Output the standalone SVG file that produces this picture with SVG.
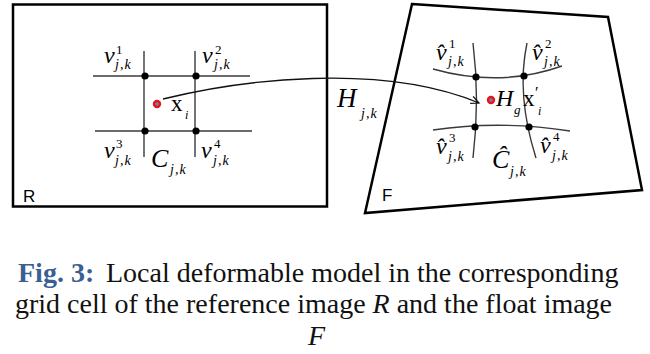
<svg xmlns="http://www.w3.org/2000/svg" width="650" height="354" viewBox="0 0 650 354">
<style>
.frame{fill:none;stroke:#000;stroke-width:2.5}
.grid{fill:none;stroke:#3a3a3a;stroke-width:1.4}
.dot{fill:#000}
.m{font-family:"Liberation Serif","Times New Roman",serif;fill:#000}
.v{font-size:24px;font-style:italic}
.sup{font-size:13px}
.sub{font-size:14px;font-style:italic;letter-spacing:1px}
.lbl{font-family:"Liberation Sans",Arial,sans-serif;font-size:17px;fill:#000}
.cap{font-family:"Liberation Serif","Times New Roman",serif;font-size:28px;fill:#111}
.conn{fill:none;stroke:#111;stroke-width:1.3}
</style>
<defs>
<marker id="arr" markerUnits="userSpaceOnUse" markerWidth="12" markerHeight="12" refX="0" refY="0" viewBox="-10 -6 12 12" orient="auto">
<path d="M-8,-3.8 L0,0 L-8,3.8" fill="none" stroke="#111" stroke-width="1.2"/>
</marker>
</defs>
<rect width="650" height="354" fill="#fff"/>

<g id="image-R">
<rect class="frame" x="13" y="4.5" width="314" height="202"/>
<text class="lbl" x="23" y="202">R</text>
</g>

<g id="cell-C">
<line class="grid" x1="144" y1="51" x2="144" y2="157"/>
<line class="grid" x1="195" y1="51" x2="195" y2="157"/>
<line class="grid" x1="93" y1="76" x2="250" y2="76"/>
<line class="grid" x1="95" y1="131" x2="252" y2="131"/>
<circle class="dot" cx="145" cy="76" r="3.6"/>
<circle class="dot" cx="196" cy="76" r="3.6"/>
<circle class="dot" cx="145" cy="131" r="3.6"/>
<circle class="dot" cx="196" cy="131" r="3.6"/>
<circle cx="157" cy="104" r="4.2" fill="#e8141c"/>
<circle cx="157" cy="104" r="1.8" fill="#6a86b8"/>
<g class="m">
<text class="v" x="104" y="63">v</text><text class="sup" x="116" y="54">1</text><text class="sub" x="115" y="69">j,k</text>
<text class="v" x="202" y="63">v</text><text class="sup" x="215" y="54">2</text><text class="sub" x="214" y="69">j,k</text>
<text class="v" x="104" y="158">v</text><text class="sup" x="116" y="148">3</text><text class="sub" x="115" y="165">j,k</text>
<text class="v" x="201" y="158">v</text><text class="sup" x="214" y="148">4</text><text class="sub" x="213" y="165">j,k</text>
<text x="171" y="111" font-size="23">x</text><text x="185" y="119" font-size="12" font-style="italic">i</text>
<text x="151" y="167" font-size="26" font-style="italic">C</text><text class="sub" x="170" y="174" font-size="16">j,k</text>
</g>
</g>

<g id="image-F">
<polygon class="frame" points="412,4 608,17 642,190 365,213"/>
<text class="lbl" x="382" y="201">F</text>
</g>

<g id="cell-C-hat">
<path class="grid" d="M473,43 Q480,100 473,158"/>
<path class="grid" d="M527,43 Q516,95 536,158"/>
<path class="grid" d="M433,69 Q500,88 562,66"/>
<path class="grid" d="M433,130 Q500,120 570,131"/>
<circle class="dot" cx="476" cy="77" r="3.6"/>
<circle class="dot" cx="524" cy="76" r="3.6"/>
<circle class="dot" cx="475" cy="127" r="3.6"/>
<circle class="dot" cx="529" cy="127" r="3.6"/>
<circle cx="491" cy="100" r="4.2" fill="#e8141c"/>
<circle cx="491" cy="100" r="1.8" fill="#6a86b8"/>
<g class="m">
<text class="v" x="436" y="60">v̂</text><text class="sup" x="449" y="48">1</text><text class="sub" x="448" y="66">j,k</text>
<text class="v" x="532" y="60">v̂</text><text class="sup" x="545" y="48">2</text><text class="sub" x="544" y="66">j,k</text>
<text class="v" x="436" y="154">v̂</text><text class="sup" x="449" y="142">3</text><text class="sub" x="448" y="161">j,k</text>
<text class="v" x="540" y="153">v̂</text><text class="sup" x="553" y="141">4</text><text class="sub" x="552" y="160">j,k</text>
<text x="492" y="168" font-size="26" font-style="italic">Ĉ</text><text class="sub" x="510" y="176" font-size="16">j,k</text>
<text x="496" y="106" font-size="24" font-style="italic">H</text><text x="514" y="114" font-size="13" font-style="italic">g</text>
<text x="523" y="106" font-size="23">x</text><text x="535" y="98" font-size="16">′</text><text x="538" y="115" font-size="12" font-style="italic">i</text>
</g>
</g>

<g id="connectors">
<path class="conn" d="M163,99 C240,80 380,62 479,103" marker-end="url(#arr)"/>
<g class="m">
<text x="337" y="107" font-size="27" font-style="italic">H</text><text class="sub" x="361" y="118" font-size="16">j,k</text>
</g>
</g>

<g id="caption">
<text class="cap" x="18" y="282"><tspan fill="#3b5f93" font-weight="bold">Fig. 3:</tspan><tspan x="106">Local deformable model in the corresponding</tspan></text>
<text class="cap" x="15" y="313">grid cell of the reference image <tspan font-style="italic">R</tspan> and the float image</text>
<text class="cap" x="308" y="345" font-style="italic">F</text>
</g>
</svg>
